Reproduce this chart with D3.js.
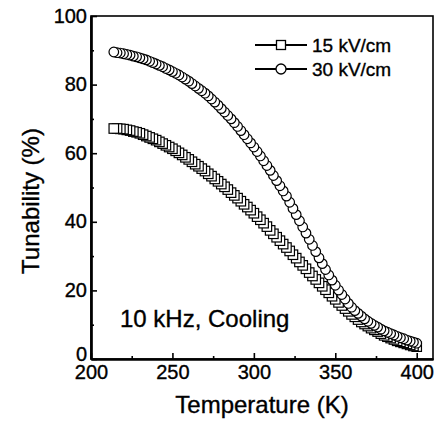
<!DOCTYPE html>
<html><head><meta charset="utf-8">
<script src="https://cdn.jsdelivr.net/npm/d3@7"></script>
<style>body{margin:0;background:#fff}svg{display:block}text{font-family:"Liberation Sans",Arial,sans-serif;fill:#000;stroke:#000;stroke-width:0.35px}</style>
</head><body>
<script>
const temperatures = [214,216,218,220,222,224,226,228,230,232,234,236,238,240,242,244,246,248,250,252,254,256,258,260,262,264,266,268,270,272,274,276,278,280,282,284,286,288,290,292,294,296,298,300,302,304,306,308,310,312,314,316,318,320,322,324,326,328,330,332,334,336,338,340,342,344,346,348,350,352,354,356,358,360,362,364,366,368,370,372,374,376,378,380,382,384,386,388,390,392,394,396,398,400];
const tun15 = [67.2,67.2,67.1,67.0,66.8,66.6,66.3,66.1,65.8,65.4,65.0,64.6,64.2,63.8,63.3,62.8,62.3,61.8,61.3,60.7,60.1,59.5,58.8,58.2,57.5,56.8,56.2,55.5,54.8,54.0,53.3,52.5,51.8,51.0,50.2,49.4,48.5,47.7,46.9,46.0,45.1,44.3,43.4,42.5,41.5,40.6,39.6,38.6,37.5,36.5,35.5,34.5,33.5,32.5,31.5,30.4,29.4,28.3,27.3,26.3,25.2,24.2,23.2,22.2,21.2,20.2,19.3,18.3,17.4,16.5,15.6,14.7,13.9,13.0,12.3,11.5,10.8,10.2,9.6,9.0,8.5,8.0,7.4,6.9,6.5,6.1,5.7,5.3,5.0,4.7,4.4,4.1,3.8,3.6];
const tun30 = [89.5,89.3,89.2,89.0,88.8,88.6,88.3,88.1,87.8,87.5,87.2,86.8,86.4,86.0,85.6,85.2,84.7,84.3,83.8,83.3,82.8,82.2,81.6,81.0,80.3,79.6,78.9,78.2,77.5,76.7,75.8,74.9,74.0,73.0,72.0,71.0,70.0,68.9,67.8,66.6,65.4,64.2,63.0,61.8,60.5,59.2,57.8,56.4,55.0,53.5,52.0,50.5,49.0,47.5,45.7,43.9,42.1,40.3,38.5,36.7,34.9,33.1,31.3,29.5,27.8,26.1,24.5,23.0,21.5,20.1,18.8,17.5,16.2,15.1,14.1,13.3,12.5,11.7,11.0,10.4,9.8,9.3,8.7,8.2,7.8,7.4,7.0,6.6,6.2,5.9,5.5,5.2,4.9,4.6];
const xTicks = [200,250,300,350,400];
const yTicks = [0,20,40,60,80,100];
const seriesNames = ["15 kV/cm","30 kV/cm"];
const xLabel = "Temperature (K)";
const yLabel = "Tunability (%)";
const note = "10 kHz, Cooling";

const W=437,H=426, L=91, R=433, T=16, B=359;
const svg=d3.select("body").append("svg").attr("width",W).attr("height",H);
const x=d3.scaleLinear().domain([200,410]).range([L,R]);
const y=d3.scaleLinear().domain([0,100]).range([B,T]);

svg.append("rect").attr("x",L).attr("y",T).attr("width",R-L).attr("height",B-T)
  .attr("fill","none").attr("stroke","#000").attr("stroke-width",1.6);

const xMinor=d3.range(225,410,50);
const yMinor=d3.range(10,100,20);
const gx=svg.append("g").attr("transform",`translate(0,${B})`);
gx.call(d3.axisBottom(x).tickValues(xTicks).tickSize(-6).tickSizeOuter(0));
gx.append("g").call(d3.axisBottom(x).tickValues(xMinor).tickSize(-3).tickSizeOuter(0).tickFormat(""));
const gy=svg.append("g").attr("transform",`translate(${L},0)`);
gy.call(d3.axisLeft(y).tickValues(yTicks).tickSize(-6).tickSizeOuter(0));
gy.append("g").call(d3.axisLeft(y).tickValues(yMinor).tickSize(-3).tickSizeOuter(0).tickFormat(""));
svg.selectAll(".domain").attr("stroke","#000").attr("stroke-width",2.2);
svg.selectAll(".tick line").attr("stroke","#000").attr("stroke-width",1.6);
gx.selectAll(".tick text").attr("font-size",20).attr("dy","0.72em").attr("y",6);
gy.selectAll(".tick text").attr("font-size",20).attr("x",-4).attr("dy","0.3em")
  .attr("y",d=>d===0?-5:0);

const d15=temperatures.map((t,i)=>({t,v:tun15[i]})).reverse();
const d30=temperatures.map((t,i)=>({t,v:tun30[i]})).reverse();
const line=d3.line().x(d=>x(d.t)).y(d=>y(d.v));
svg.append("path").datum(d15).attr("d",line).attr("fill","none").attr("stroke","#000").attr("stroke-width",1.5);
svg.append("path").datum(d30).attr("d",line).attr("fill","none").attr("stroke","#000").attr("stroke-width",1.5);
const s=9.5;
svg.append("g").selectAll("rect").data(d15).join("rect")
  .attr("x",d=>x(d.t)-s/2).attr("y",d=>y(d.v)-s/2).attr("width",s).attr("height",s)
  .attr("fill","#fff").attr("stroke","#000").attr("stroke-width",1.2);
svg.append("g").selectAll("circle").data(d30).join("circle")
  .attr("cx",d=>x(d.t)).attr("cy",d=>y(d.v)).attr("r",4.8)
  .attr("fill","#fff").attr("stroke","#000").attr("stroke-width",1.2);

const lg=svg.append("g");
[45,69].forEach((ly,i)=>{
  lg.append("line").attr("x1",255).attr("x2",307).attr("y1",ly).attr("y2",ly).attr("stroke","#000").attr("stroke-width",2);
  if(i===0) lg.append("rect").attr("x",281-4.5).attr("y",ly-4.5).attr("width",9).attr("height",9).attr("fill","#fff").attr("stroke","#000").attr("stroke-width",1.3);
  else lg.append("circle").attr("cx",281).attr("cy",ly).attr("r",5).attr("fill","#fff").attr("stroke","#000").attr("stroke-width",1.3);
  lg.append("text").attr("x",312).attr("y",ly+7).attr("font-size",19).text(seriesNames[i]);
});

svg.append("text").attr("x",120).attr("y",327).attr("font-size",24).text(note);
svg.append("text").attr("x",(L+R)/2).attr("y",413).attr("text-anchor","middle").attr("font-size",24).text(xLabel);
svg.append("text").attr("transform",`translate(39,201) rotate(-90)`).attr("text-anchor","middle").attr("font-size",24).text(yLabel);
</script>
</body></html>
